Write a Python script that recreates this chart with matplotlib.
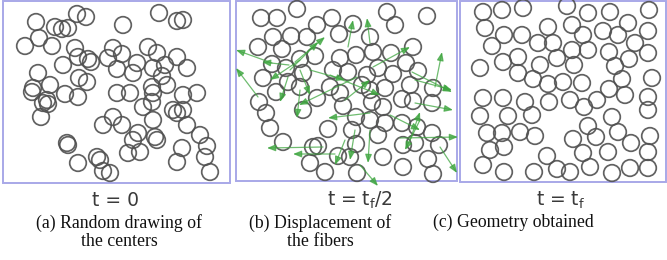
import matplotlib
matplotlib.use("Agg")
import matplotlib.pyplot as plt
from matplotlib.patches import Circle, Rectangle

# ---- data (pixel coordinates) ----
a_x = [36, 77, 86, 55, 62, 68, 123, 159, 177, 183, 39, 25, 52, 75, 113, 122, 148, 157, 177,
       63, 78, 88, 91, 108, 117, 137, 133, 153, 165, 187, 38, 79, 87, 162, 167, 50, 33, 32,
       65, 78, 117, 130, 152, 153, 183, 197, 47, 43, 48, 152, 143, 173, 177, 183, 41, 113,
       103, 122, 153, 187, 200, 138, 133, 155, 157, 67, 68, 207, 182, 140, 128, 97, 100, 78,
       177, 205, 103, 110, 210]
a_y = [22, 14, 17, 27, 29, 28, 25, 13, 21, 20, 38, 46, 46, 48, 48, 54, 47, 53, 57,
       65, 57, 59, 62, 58, 69, 63, 73, 68, 65, 68, 73, 78, 82, 76, 85, 85, 88, 92,
       94, 97, 93, 93, 87, 93, 95, 93, 100, 103, 104, 102, 107, 110, 113, 110, 117, 117,
       125, 125, 120, 125, 135, 133, 140, 137, 140, 143, 145, 146, 148, 152, 153, 157, 160, 163,
       162, 157, 171, 173, 172]

b_x = [297, 261, 277, 332, 317, 353, 387, 395, 427, 273, 291, 307, 339, 370, 258, 282, 315,
       340, 356, 373, 391, 413, 272, 286, 300, 303, 333, 348, 367, 378, 393, 406, 418, 263,
       288, 300, 276, 330, 340, 362, 370, 385, 410, 433, 259, 317, 343, 372, 383, 402, 413,
       432, 266, 303, 356, 370, 385, 402, 417, 270, 328, 352, 378, 432, 283, 313, 318, 356,
       403, 415, 439, 338, 350, 383, 428, 310, 403, 325, 357, 433]
b_y = [9, 18, 18, 18, 25, 24, 12, 25, 16, 37, 36, 37, 34, 37, 47, 49, 56,
       58, 55, 52, 53, 47, 64, 68, 59, 73, 70, 72, 75, 68, 74, 63, 71, 78,
       82, 87, 92, 87, 93, 85, 90, 88, 85, 88, 102, 98, 106, 102, 107, 99, 101,
       103, 113, 110, 117, 120, 123, 123, 127, 128, 129, 130, 135, 133, 142, 147, 146, 144,
       145, 143, 145, 156, 157, 157, 159, 163, 167, 172, 173, 174]

# displacement arrows of panel (b): start x, start y, end x, end y
arr_x0 = [272, 258, 295, 290, 289, 348, 370, 435, 412, 373, 357, 300, 288, 323, 335, 400,
          440, 360, 345, 370, 370, 415, 415, 345, 330, 310, 390, 420, 300, 355, 410, 300]
arr_y0 = [63, 97, 62, 70, 65, 47, 43, 87, 72, 67, 77, 90, 77, 147, 154, 138,
          147, 165, 140, 130, 113, 103, 80, 100, 75, 70, 115, 120, 60, 130, 140, 70]
arr_x1 = [236, 236, 325, 318, 262, 353, 367, 442, 452, 410, 299, 297, 280, 267, 293, 458,
          457, 378, 335, 368, 328, 453, 452, 370, 380, 345, 420, 405, 270, 350, 420, 310]
arr_y1 = [50, 68, 37, 42, 62, 20, 18, 52, 92, 47, 105, 118, 102, 148, 154, 137,
          173, 186, 165, 163, 118, 110, 90, 80, 95, 80, 130, 150, 80, 160, 112, 95]

c_x = [483, 502, 523, 567, 588, 610, 649, 485, 504, 522, 548, 572, 583, 603, 618, 628, 648,
       492, 538, 553, 572, 588, 609, 635, 648, 503, 518, 540, 557, 574, 615, 629, 480,
       518, 533, 548, 563, 582, 609, 622, 625, 652, 483, 503, 525, 549, 570, 584, 597, 648,
       648, 480, 508, 532, 612, 487, 502, 520, 535, 588, 573, 596, 618, 631, 650, 490, 504,
       547, 583, 608, 648, 483, 504, 534, 557, 570, 590, 612, 630, 648]
c_y = [12, 10, 8, 6, 13, 12, 10, 28, 35, 35, 27, 25, 35, 31, 35, 23, 31,
       46, 43, 43, 50, 50, 52, 43, 53, 62, 57, 65, 58, 65, 66, 59, 68,
       73, 79, 84, 82, 83, 89, 79, 95, 78, 98, 98, 102, 102, 100, 107, 100, 97,
       110, 116, 116, 115, 117, 133, 133, 132, 136, 126, 139, 137, 132, 143, 136, 150, 147,
       156, 153, 152, 152, 165, 172, 172, 169, 172, 167, 173, 168, 168]

time_labels = ["t = 0", "t = t$_\\mathregular{f}$/2", "t = t$_\\mathregular{f}$"]
captions = ["(a) Random drawing of\nthe centers", "(b) Displacement of\nthe fibers",
            "(c) Geometry obtained"]

# ---- drawing ----
W, H = 667, 260
fig = plt.figure(figsize=(W / 100, H / 100), dpi=100)
ax = fig.add_axes([0, 0, 1, 1])
ax.set_xlim(0, W)
ax.set_ylim(H, 0)
ax.axis("off")

R = 8.3
ring = "#505050"
frame = "#a8a8e8"

# panel frames
for (x0, x1, yb) in [(3, 230, 183), (236, 457, 181), (460, 666, 182)]:
    ax.add_patch(Rectangle((x0, 0.5), x1 - x0, yb - 0.5, fill=False,
                           edgecolor=frame, linewidth=1.4, zorder=1))

for xs, ys in [(a_x, a_y), (b_x, b_y), (c_x, c_y)]:
    for x, y in zip(xs, ys):
        ax.add_patch(Circle((x, y), R, fill=False, edgecolor=ring,
                            linewidth=1.25, alpha=0.9, zorder=2))

for x0, y0, x1, y1 in zip(arr_x0, arr_y0, arr_x1, arr_y1):
    ax.annotate("", xy=(x1, y1), xytext=(x0, y0), xycoords="data",
                arrowprops=dict(arrowstyle="-|>,head_length=0.5,head_width=0.2",
                                color="#3fa640", lw=0.9, alpha=0.75,
                                shrinkA=0, shrinkB=0),
                zorder=3, annotation_clip=False)

label_x = [116, 360, 561]
for lx, t in zip(label_x, time_labels):
    ax.text(lx, 200, t, ha="center", va="center", fontsize=13.5,
            family="DejaVu Sans", color="#3a3a3a")

cap_x = [119, 320, 513]
for cx, c in zip(cap_x, captions):
    ax.text(cx, 214, c, ha="center", va="top", fontsize=12.8,
            family="Liberation Serif", color="#111111", linespacing=1.05)

fig.savefig("out.png", dpi=100)
